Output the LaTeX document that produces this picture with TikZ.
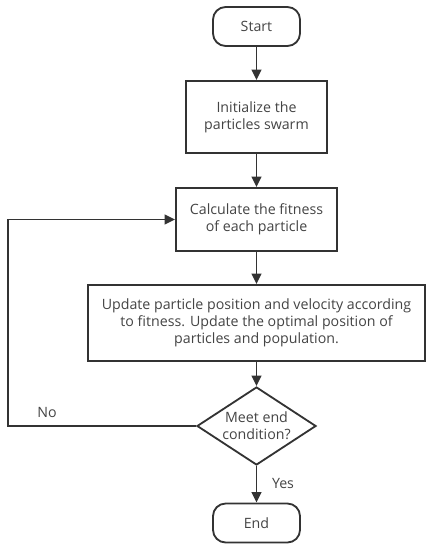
\documentclass[tikz,border=0pt]{standalone}
\usepackage{fontspec}
\setmainfont{Open Sans}
\usetikzlibrary{shapes.geometric,arrows.meta}
\definecolor{ink}{HTML}{333333}
\definecolor{txt}{HTML}{444444}
\tikzset{
  term/.style={draw=ink, line width=1.3pt, rounded corners=9pt, align=center, text=txt, minimum width=2.175cm, minimum height=0.975cm, inner sep=0pt},
  proc/.style={draw=ink, line width=1.3pt, align=center, text=txt, inner sep=0pt},
  dec/.style={draw=ink, line width=1.3pt, diamond, aspect=1.53, align=center, text=txt, inner sep=0pt, minimum width=2.975cm, minimum height=1.95cm},
  flow/.style={draw=ink, line width=1.3pt, -{Triangle[length=7.5pt,width=7pt]}},
  lbl/.style={text=txt, inner sep=0pt}
}
\begin{document}
\begin{tikzpicture}[x=0.025cm, y=-0.025cm, font=\fontsize{10.1}{12}\selectfont]
\useasboundingbox (0,0) rectangle (432,550);
\node[term] (a) at (256.5,26.5) {Start};
\node[proc, minimum width=3.525cm, minimum height=1.8cm] (b) at (256.5,117) {Initialize the\\particles swarm};
\node[proc, minimum width=4.025cm, minimum height=1.575cm] (c) at (256.5,219.5) {Calculate the fitness\\of each particle};
\node[proc, minimum width=8.425cm, minimum height=1.9cm] (d) at (256.5,323) {Update particle position and velocity according\\to fitness. Update the optimal position of\\particles and population.};
\node[dec] (e) at (256.5,426) {Meet end\\condition?};
\node[term] (f) at (256.5,523) {End};
\node[lbl] (no) at (47,412) {No};
\node[lbl] (yes) at (283,483) {Yes};
\draw[flow] (a) -- (b);
\draw[flow] (b) -- (c);
\draw[flow] (c) -- (d);
\draw[flow] (d) -- (e);
\draw[flow] (e) -- (f);
\draw[flow] (e.west) -- ++(-188,0) |- (c.west);
\end{tikzpicture}
\end{document}
